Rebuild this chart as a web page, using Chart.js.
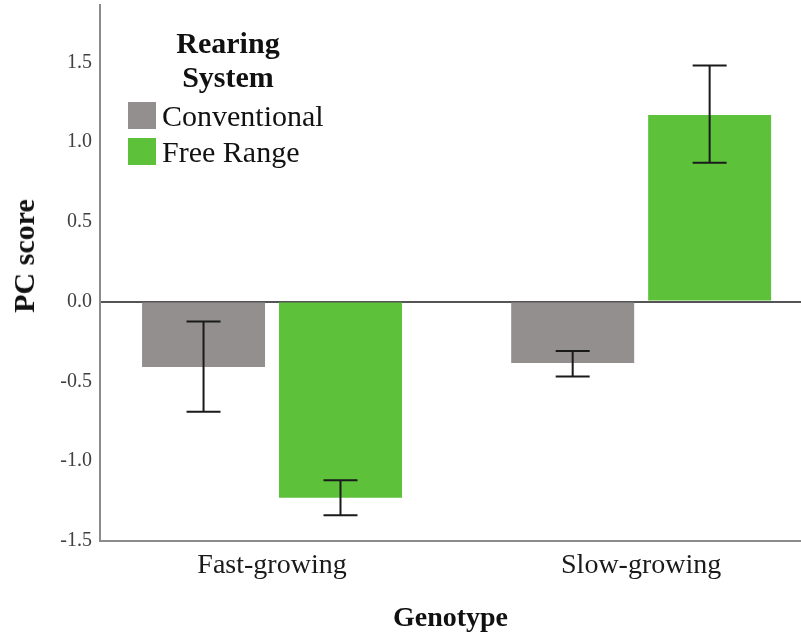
<!DOCTYPE html>
<html>
<head>
<meta charset="utf-8">
<script src="https://cdn.jsdelivr.net/npm/chart.js@4.4.0/dist/chart.umd.min.js"></script>
<style>
body{margin:0;background:#fff;}
#wrap{position:relative;width:801px;height:636px;overflow:hidden;}
#legend{position:absolute;left:0;top:0;font-family:"Liberation Serif",serif;color:#111;}
#legend .ttl{position:absolute;left:128px;top:26px;width:200px;text-align:center;font-weight:bold;font-size:30px;line-height:34px;}
#legend .item{position:absolute;left:128px;height:27px;white-space:nowrap;}
#legend .sw{position:absolute;left:0;top:0;width:28px;height:27px;}
#legend .lbl{position:absolute;left:34px;top:-1px;font-size:30px;line-height:30px;}
#ytitle{position:absolute;left:24px;top:256px;transform:translate(-50%,-50%) rotate(-90deg);
  font-family:"Liberation Serif",serif;font-weight:bold;font-size:30px;line-height:36px;color:#111;white-space:nowrap;}
</style>
</head>
<body>
<div id="wrap">
  <canvas id="chart" width="801" height="636"></canvas>
  <div id="legend"></div>
  <div id="ytitle"></div>
</div>
<script>
// data
const genotypes = ["Fast-growing", "Slow-growing"];
const systems = ["Conventional", "Free Range"];
const conventional = [-0.41, -0.385];
const freeRange = [-1.23, 1.17];
const convLow = [-0.69, -0.47];
const convHigh = [-0.125, -0.31];
const freeLow = [-1.34, 0.87];
const freeHigh = [-1.12, 1.48];
const yTicks = [-1.5, -1.0, -0.5, 0.0, 0.5, 1.0, 1.5];
const colors = ["#948f8f", "#5dc23a"];
const yTitle = "PC score";
const xTitle = "Genotype";

const serif = '"Liberation Serif", "Times New Roman", serif';
Chart.defaults.font.family = serif;

function pts(vals){ return vals.map((v,i)=>({x:i, y:v})); }

// draws the error bars from the low/high arrays
const errorBars = {
  id: "errorBars",
  afterDatasetsDraw(chart){
    const ctx = chart.ctx;
    const ys = chart.scales.y;
    chart.data.datasets.forEach((ds, d)=>{
      const meta = chart.getDatasetMeta(d);
      meta.data.forEach((bar, i)=>{
        const top = ys.getPixelForValue(ds.errHigh[i]);
        const bot = ys.getPixelForValue(ds.errLow[i]);
        const half = 17;
        ctx.save();
        ctx.strokeStyle = "#1a1a1a";
        ctx.lineWidth = 2;
        ctx.beginPath();
        ctx.moveTo(bar.x, top); ctx.lineTo(bar.x, bot);
        ctx.moveTo(bar.x-half, top); ctx.lineTo(bar.x+half, top);
        ctx.moveTo(bar.x-half, bot); ctx.lineTo(bar.x+half, bot);
        ctx.stroke();
        ctx.restore();
      });
    });
  }
};

const chart = new Chart(document.getElementById("chart"), {
  type: "bar",
  data: {
    datasets: [
      {label: systems[0], data: pts(conventional), backgroundColor: colors[0], errLow: convLow, errHigh: convHigh},
      {label: systems[1], data: pts(freeRange), backgroundColor: colors[1], errLow: freeLow, errHigh: freeHigh}
    ]
  },
  options: {
    responsive: false,
    animation: false,
    layout: {padding: {top: 5, right: 0, bottom: 0, left: 0}},
    categoryPercentage: 0.742,
    barPercentage: 0.898,
    plugins: {legend: {display: false}, tooltip: {enabled: false}},
    scales: {
      x: {
        type: "linear",
        offset: false,
        min: -0.466, max: 1.433,
        afterBuildTicks: s => { s.ticks = genotypes.map((g,i)=>({value:i})); },
        afterFit: s => { s.paddingLeft = 0; s.paddingRight = 0; },
        ticks: {
          callback: v => genotypes[v],
          maxRotation: 0, padding: 8, color: "#1a1a1a",
          font: {size: 28}
        },
        grid: {display: false, drawTicks: false},
        border: {display: true, color: "#8c8c8c", width: 2},
        title: {display: true, text: xTitle, color: "#111",
          font: {size: 28, weight: "bold"}, padding: {top: 12, bottom: 0}}
      },
      y: {
        min: -1.5, max: 1.86,
        afterBuildTicks: s => { s.ticks = yTicks.map(v=>({value:v})); },
        afterFit: s => { s.width = 100; s.paddingTop = 0; s.paddingBottom = 0; },
        ticks: {
          callback: v => Number(v).toFixed(1),
          padding: 8, color: "#404040", font: {size: 20}
        },
        grid: {
          drawTicks: false,
          color: c => (c.tick && c.tick.value === 0) ? "#555555" : "rgba(0,0,0,0)",
          lineWidth: 2
        },
        border: {display: true, color: "#8c8c8c", width: 2},
        title: {display: false}
      }
    }
  },
  plugins: [errorBars]
});

document.getElementById("ytitle").textContent = yTitle;

// legend built from the datasets
const lg = document.getElementById("legend");
let html = '<div class="ttl">Rearing<br>System</div>';
chart.data.datasets.forEach((ds, i)=>{
  html += '<div class="item" style="top:' + (102 + i*36) + 'px"><span class="sw" style="background:' +
    ds.backgroundColor + '"></span><span class="lbl">' + ds.label + '</span></div>';
});
lg.innerHTML = html;
</script>
</body>
</html>
